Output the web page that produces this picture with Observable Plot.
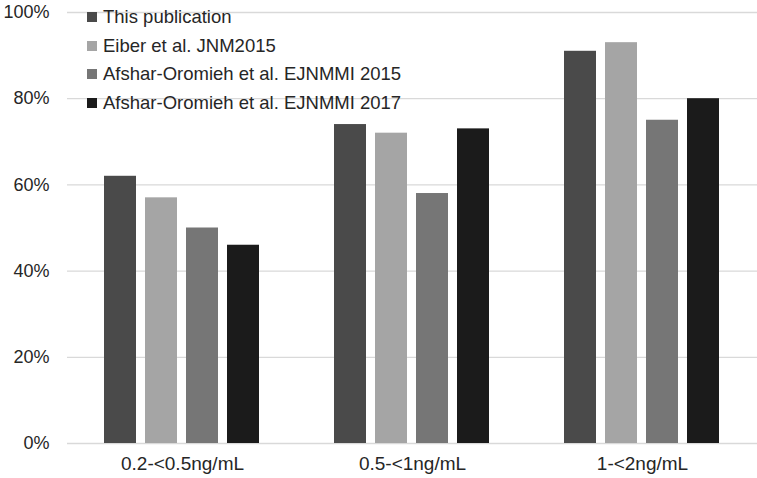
<!DOCTYPE html>
<html><head><meta charset="utf-8">
<script src="https://cdn.jsdelivr.net/npm/d3@7"></script>
<script src="https://cdn.jsdelivr.net/npm/@observablehq/plot@0.6"></script>
<style>
body{margin:0;background:#fff;font-family:"Liberation Sans",Arial,sans-serif;}
#wrap{position:relative;width:757px;height:478px;}
#legend{position:absolute;left:87px;top:3px;font-size:18.5px;color:#262626;}
#legend div{height:28.5px;display:flex;align-items:center;white-space:nowrap;}
#legend span.sw{display:inline-block;width:10px;height:10px;margin-right:6px;}
</style></head>
<body><div id="wrap"><div id="legend"></div></div>
<script>
const categories = ["0.2-<0.5ng/mL", "0.5-<1ng/mL", "1-<2ng/mL"];
const series = ["This publication", "Eiber et al. JNM2015", "Afshar-Oromieh et al. EJNMMI 2015", "Afshar-Oromieh et al. EJNMMI 2017"];
const thisPublication = [62, 74, 91];
const eiber2015 = [57, 72, 93];
const afshar2015 = [50, 58, 75];
const afshar2017 = [46, 73, 80];
const colors = ["#4a4a4a", "#a5a5a5", "#767676", "#1b1b1b"];
const yTicks = [0, 20, 40, 60, 80, 100];

const seriesValues = [thisPublication, eiber2015, afshar2015, afshar2017];
const data = [];
categories.forEach((c, i) => seriesValues.forEach((vals, j) => data.push({category: c, series: series[j], value: vals[i]})));

const chart = Plot.plot({
  width: 757, height: 478,
  marginTop: 12, marginBottom: 35, marginLeft: 67, marginRight: 0,
  style: {fontFamily: "'Liberation Sans', Arial, sans-serif", color: "#262626", background: "#fff", overflow: "visible"},
  fx: {domain: categories, paddingInner: 0.313, paddingOuter: 0.1565, label: null},
  x: {domain: series, paddingInner: 0.21, paddingOuter: 0, axis: null},
  y: {domain: [0, 100], label: null},
  color: {domain: series, range: colors},
  marks: [
    Plot.ruleY(yTicks, {stroke: "#d9d9d9", strokeWidth: 1.3, insetLeft: -36, insetRight: -36}),
    Plot.barY(data, {fx: "category", x: "series", y: "value", fill: "series"}),
    Plot.axisY({ticks: yTicks, tickFormat: d => d + "%", tickSize: 0, tickPadding: 54, fontSize: 18, label: null}),
    Plot.axisFx({anchor: "bottom", tickSize: 0, tickPadding: 13, fontSize: 19, label: null})
  ]
});
document.getElementById("wrap").appendChild(chart);

const leg = document.getElementById("legend");
series.forEach((s, i) => {
  const d = document.createElement("div");
  d.innerHTML = `<span class="sw" style="background:${colors[i]}"></span>${s}`;
  leg.appendChild(d);
});
</script></body></html>
